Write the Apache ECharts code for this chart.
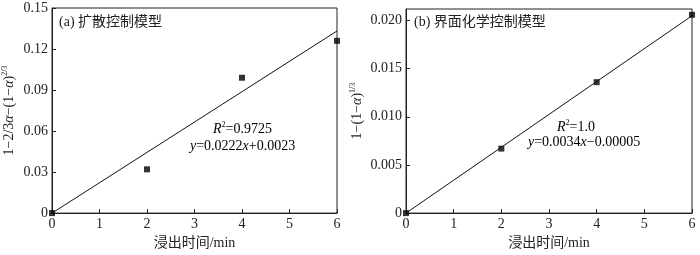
<!DOCTYPE html>
<html><head><meta charset="utf-8">
<script src="https://cdn.jsdelivr.net/npm/echarts@6/dist/echarts.min.js"></script>
<style>html,body{margin:0;padding:0;background:#fff}#c{width:700px;height:255px}</style>
</head><body><div id="c"></div>
<script>
const xTicks = [0, 1, 2, 3, 4, 5, 6];
const timeMin = [0, 2, 4, 6];
const diffusionValues = [0, 0.032, 0.099, 0.126];
const chemicalValues = [0, 0.0067, 0.0136, 0.0206];
const fitX = [0, 6];
const diffusionFit = [0, 0.1332];
const chemicalFit = [0, 0.0205];
const yTicksA = [0, 0.03, 0.06, 0.09, 0.12, 0.15];
const yTicksB = [0, 0.005, 0.010, 0.015, 0.020];

const FONT = '"Liberation Serif", "Noto Sans CJK SC", serif';
const axisCol = '#222';
const pairs = (xs, ys) => xs.map((x, i) => [x, ys[i]]);

const chart = echarts.init(document.getElementById('c'));
const xAxisBase = (gi) => ({
  type: 'value', gridIndex: gi, min: xTicks[0], max: xTicks[xTicks.length - 1], interval: 1,
  name: '浸出时间/min', nameLocation: 'middle', nameGap: 20,
  nameTextStyle: {fontFamily: FONT, fontSize: 14, color: '#222'},
  axisLine: {lineStyle: {color: axisCol, width: 1}},
  axisTick: {inside: true, length: 4, lineStyle: {color: axisCol}},
  axisLabel: {fontFamily: FONT, fontSize: 14, color: '#222', margin: 4},
  splitLine: {show: false}
});
const sup = {fontFamily: FONT, fontSize: 8, color: '#222', verticalAlign: 'top', padding: [0, 0, 8, 0]};
const base = {fontFamily: FONT, fontSize: 14, color: '#222'};
const it = {fontFamily: FONT, fontSize: 14, color: '#222', fontStyle: 'italic'};

chart.setOption({
  animation: false,
  grid: [
    {left: 50, right: 363, top: 8, bottom: 36, show: true, borderColor: axisCol, borderWidth: 1},
    {left: 406, right: 8, top: 9, bottom: 36, show: true, borderColor: axisCol, borderWidth: 1}
  ],
  xAxis: [xAxisBase(0), xAxisBase(1)],
  yAxis: [
    {type: 'value', gridIndex: 0, min: yTicksA[0], max: yTicksA[yTicksA.length - 1], interval: 0.03,
     name: '{b|1−2/3}{i|α}{b|−(1−}{i|α}{b|)}{s|2/3}', nameLocation: 'middle', nameGap: 35,
     nameTextStyle: {fontFamily: FONT, fontSize: 14, color: '#222', rich: {b: base, i: it, s: sup}},
     axisLine: {lineStyle: {color: axisCol, width: 1}},
     axisTick: {inside: true, length: 4, lineStyle: {color: axisCol}},
     axisLabel: {fontFamily: FONT, fontSize: 14, color: '#222', margin: 4,
       formatter: v => v === 0 ? '0' : v.toFixed(2)},
     splitLine: {show: false}},
    {type: 'value', gridIndex: 1, min: yTicksB[0], max: 0.0212, interval: 0.005,
     name: '{b|1−(1−}{i|α}{b|)}{s|1/3}', nameLocation: 'middle', nameGap: 41,
     nameTextStyle: {fontFamily: FONT, fontSize: 14, color: '#222', rich: {b: base, i: it, s: sup}},
     axisLine: {lineStyle: {color: axisCol, width: 1}},
     axisTick: {inside: true, length: 4, lineStyle: {color: axisCol}},
     axisLabel: {fontFamily: FONT, fontSize: 14, color: '#222', margin: 4, showMaxLabel: false,
       formatter: v => v === 0 ? '0' : (yTicksB.some(t => Math.abs(t - v) < 1e-9) ? v.toFixed(3) : '')},
     splitLine: {show: false}}
  ],
  series: [
    {type: 'line', xAxisIndex: 0, yAxisIndex: 0, data: pairs(fitX, diffusionFit), symbol: 'none',
     lineStyle: {color: '#111', width: 1}, silent: true},
    {type: 'scatter', xAxisIndex: 0, yAxisIndex: 0, data: pairs(timeMin, diffusionValues), symbol: 'rect',
     symbolSize: 6, itemStyle: {color: '#000'}},
    {type: 'line', xAxisIndex: 1, yAxisIndex: 1, data: pairs(fitX, chemicalFit), symbol: 'none',
     lineStyle: {color: '#111', width: 1}, silent: true},
    {type: 'scatter', xAxisIndex: 1, yAxisIndex: 1, data: pairs(timeMin, chemicalValues), symbol: 'rect',
     symbolSize: 6, itemStyle: {color: '#000'}}
  ],
  graphic: [
    {type: 'text', left: 59, top: 15, style: {text: '(a) 扩散控制模型', font: '14px ' + FONT, fill: '#222'}},
    {type: 'text', left: 414, top: 15, style: {text: '(b) 界面化学控制模型', font: '14px ' + FONT, fill: '#222'}},
    {type: 'text', left: 213, top: 121, style: {text: '{i|R}{s|2}{b|=0.9725}', rich: {b: base, i: it, s: sup}}},
    {type: 'text', left: 190, top: 139, style: {text: '{i|y}{b|=0.0222}{i|x}{b|+0.0023}', rich: {b: base, i: it}}},
    {type: 'text', left: 557, top: 119, style: {text: '{i|R}{s|2}{b|=1.0}', rich: {b: base, i: it, s: sup}}},
    {type: 'text', left: 528, top: 135, style: {text: '{i|y}{b|=0.0034}{i|x}{b|−0.00005}', rich: {b: base, i: it}}}
  ]
});
</script></body></html>
